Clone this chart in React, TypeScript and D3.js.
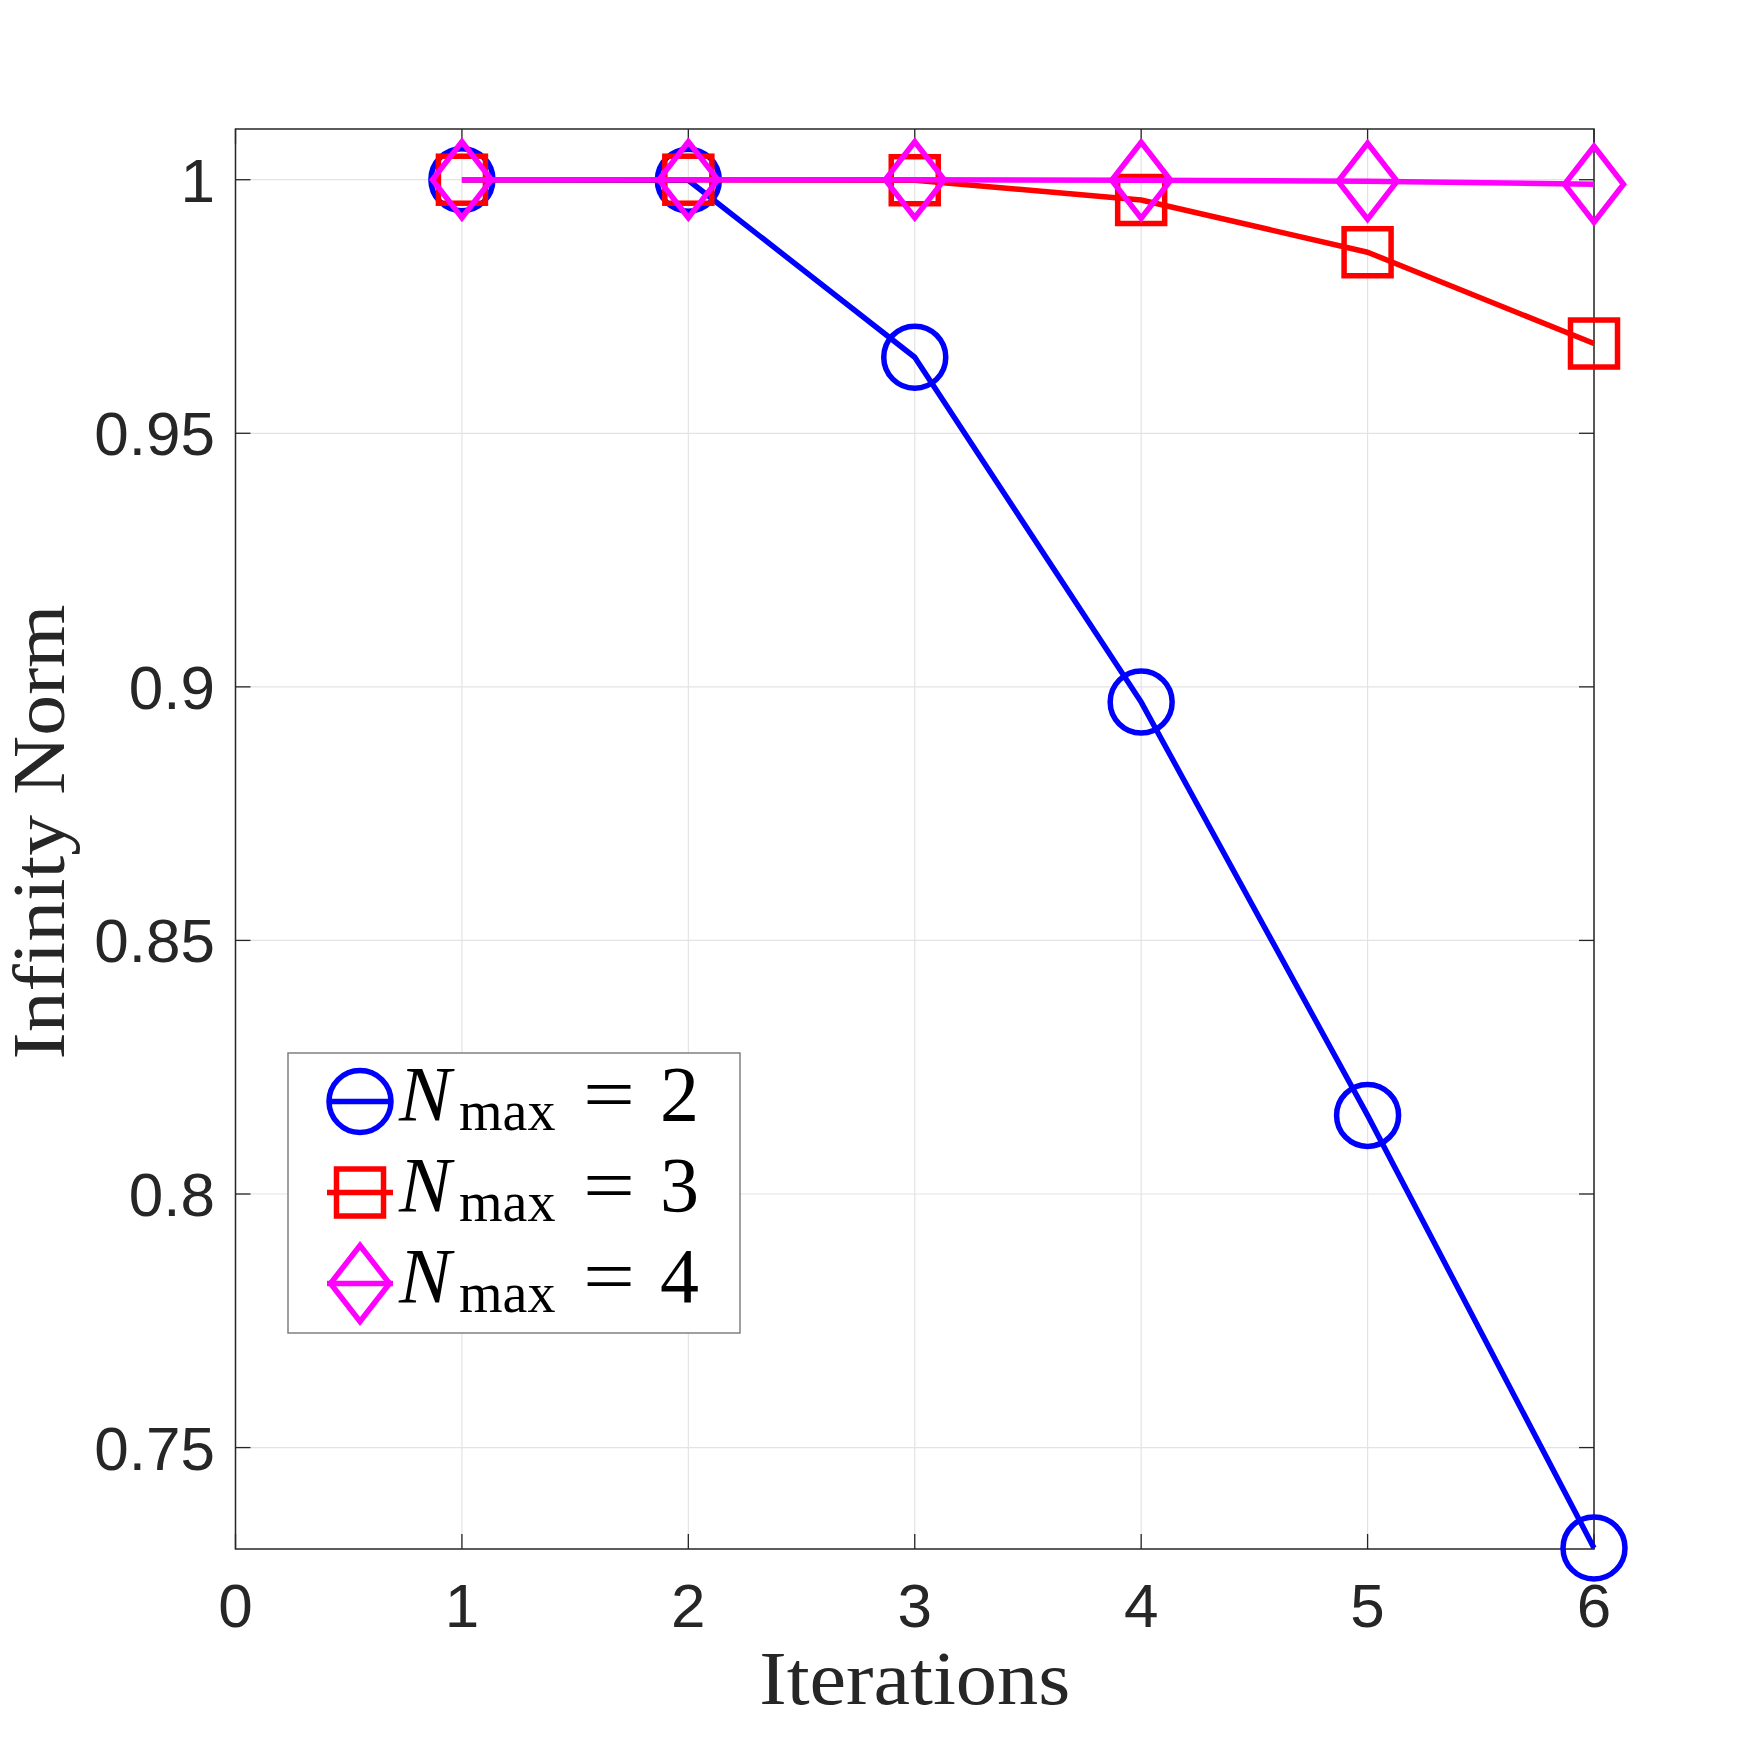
import React from "react";
import * as d3 from "d3";

const iterations = [1, 2, 3, 4, 5, 6];
const seriesN2 = [1.0, 0.9999, 0.965, 0.897, 0.8155, 0.7302];
const seriesN3 = [1.0, 1.0, 0.9999, 0.996, 0.9857, 0.9677];
const seriesN4 = [1.0, 1.0, 1.0, 0.9999, 0.9997, 0.9991];
const seriesLabels = ["2", "3", "4"];
const seriesColors = ["#0000ff", "#ff0000", "#ff00ff"];
const seriesMarkers = ["circle", "square", "diamond"];
const xTicks = [0, 1, 2, 3, 4, 5, 6];
const yTicks = [0.75, 0.8, 0.85, 0.9, 0.95, 1];
const yTickLabels = ["0.75", "0.8", "0.85", "0.9", "0.95", "1"];
const xDomain = [0, 6];
const yDomain = [0.73, 1.01];

const W = 1761;
const H = 1740;
const L = 235.5;
const R = 1594;
const T = 129;
const B = 1549;

function Marker({ type, x, y, color }: { type: string; x: number; y: number; color: string }) {
  const sw = 5.5;
  if (type === "circle") {
    return <circle cx={x} cy={y} r={31} fill="none" stroke={color} strokeWidth={sw} />;
  }
  if (type === "square") {
    const h = 23.5;
    return <rect x={x - h} y={y - h} width={2 * h} height={2 * h} fill="none" stroke={color} strokeWidth={sw} />;
  }
  const hw = 29.5;
  const hh = 38;
  return (
    <path
      d={`M${x},${y - hh}L${x + hw},${y}L${x},${y + hh}L${x - hw},${y}Z`}
      fill="none"
      stroke={color}
      strokeWidth={sw}
      strokeLinejoin="miter"
    />
  );
}

export default function App() {
  const xs = d3.scaleLinear().domain(xDomain).range([L, R]);
  const ys = d3.scaleLinear().domain(yDomain).range([B, T]);
  const allSeries = [seriesN2, seriesN3, seriesN4];
  const line = d3
    .line<number>()
    .x((_, i) => xs(iterations[i]))
    .y((d) => ys(d));

  const axisColor = "#262626";
  const gridColor = "#e3e3e3";
  const tickLen = 15;

  const legendX = 288;
  const legendY = 1053;
  const legendW = 452;
  const legendH = 280;
  const rowY = [1101.5, 1192.5, 1283.5];

  return (
    <svg width={W} height={H} style={{ position: "absolute", left: 0, top: 0, background: "#fff" }}>
      <rect x={0} y={0} width={W} height={H} fill="#fff" />
      {xTicks.map((t) => (
        <line key={"gx" + t} x1={xs(t)} x2={xs(t)} y1={T} y2={B} stroke={gridColor} strokeWidth={1.2} />
      ))}
      {yTicks.map((t) => (
        <line key={"gy" + t} x1={L} x2={R} y1={ys(t)} y2={ys(t)} stroke={gridColor} strokeWidth={1.2} />
      ))}
      {xTicks.map((t) => (
        <g key={"tx" + t}>
          <line x1={xs(t)} x2={xs(t)} y1={B} y2={B - tickLen} stroke={axisColor} strokeWidth={1.3} />
          <line x1={xs(t)} x2={xs(t)} y1={T} y2={T + tickLen} stroke={axisColor} strokeWidth={1.3} />
          <text
            x={xs(t)}
            y={1627}
            textAnchor="middle"
            fontFamily="'Liberation Sans', Arial, sans-serif"
            fontSize={62}
            fill={axisColor}
          >
            {t}
          </text>
        </g>
      ))}
      {yTicks.map((t, i) => (
        <g key={"ty" + t}>
          <line x1={L} x2={L + tickLen} y1={ys(t)} y2={ys(t)} stroke={axisColor} strokeWidth={1.3} />
          <line x1={R} x2={R - tickLen} y1={ys(t)} y2={ys(t)} stroke={axisColor} strokeWidth={1.3} />
          <text
            x={215}
            y={ys(t) + 22}
            textAnchor="end"
            fontFamily="'Liberation Sans', Arial, sans-serif"
            fontSize={62}
            fill={axisColor}
          >
            {yTickLabels[i]}
          </text>
        </g>
      ))}
      <rect x={L} y={T} width={R - L} height={B - T} fill="none" stroke={axisColor} strokeWidth={1.5} />
      {allSeries.map((s, si) => (
        <g key={"s" + si}>
          <path d={line(s) || ""} fill="none" stroke={seriesColors[si]} strokeWidth={5.5} strokeLinejoin="round" />
          {s.map((v, i) => (
            <Marker key={i} type={seriesMarkers[si]} x={xs(iterations[i])} y={ys(v)} color={seriesColors[si]} />
          ))}
        </g>
      ))}
      <text
        x={(L + R) / 2}
        y={1704}
        textAnchor="middle"
        fontFamily="'Liberation Serif', 'Times New Roman', serif"
        fontSize={76}
        fill={axisColor}
        textLength={311}
        lengthAdjust="spacingAndGlyphs"
      >
        Iterations
      </text>
      <text
        transform={`translate(64, ${832}) rotate(-90)`}
        textAnchor="middle"
        fontFamily="'Liberation Serif', 'Times New Roman', serif"
        fontSize={74}
        fill={axisColor}
        textLength={455}
        lengthAdjust="spacingAndGlyphs"
      >
        Infinity Norm
      </text>
      <rect x={legendX} y={legendY} width={legendW} height={legendH} fill="#fff" stroke="#808080" strokeWidth={1.5} />
      {seriesLabels.map((lab, i) => (
        <g key={"lg" + i}>
          <line x1={327} x2={393} y1={rowY[i]} y2={rowY[i]} stroke={seriesColors[i]} strokeWidth={5.5} />
          <Marker type={seriesMarkers[i]} x={360} y={rowY[i]} color={seriesColors[i]} />
          <text
            x={399}
            y={rowY[i] + 18}
            fontFamily="'Liberation Serif', 'Times New Roman', serif"
            fontStyle="italic"
            fontSize={78}
            fill="#000"
          >
            N
          </text>
          <text
            x={459}
            y={rowY[i] + 28}
            fontFamily="'Liberation Serif', 'Times New Roman', serif"
            fontSize={56}
            fill="#000"
          >
            max
          </text>
          <text
            x={583}
            y={rowY[i] + 18}
            fontFamily="'Liberation Serif', 'Times New Roman', serif"
            fontSize={76}
            fill="#000"
            textLength={52}
            lengthAdjust="spacingAndGlyphs"
          >
            =
          </text>
          <text
            x={660}
            y={rowY[i] + 18}
            fontFamily="'Liberation Serif', 'Times New Roman', serif"
            fontSize={78}
            fill="#000"
          >
            {lab}
          </text>
        </g>
      ))}
    </svg>
  );
}
